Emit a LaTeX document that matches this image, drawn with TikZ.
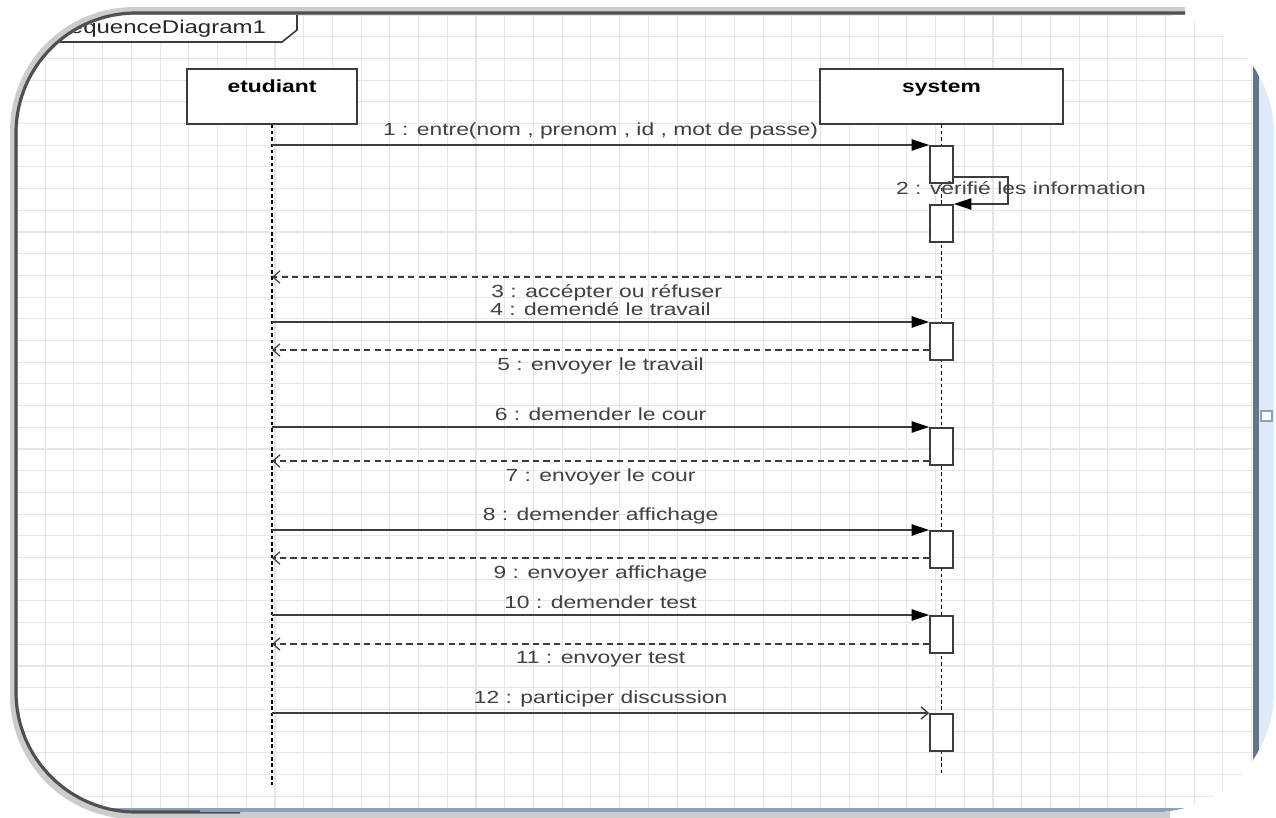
\documentclass[tikz,border=0pt]{standalone}
\usepackage{fontspec}
\setmainfont{Liberation Sans}
\newfontfamily\umlfont[FakeStretch=1.3]{Liberation Sans}
\usepackage{tikz}
\usetikzlibrary{arrows.meta, positioning}
\definecolor{gridgray}{RGB}{229,229,234}
\definecolor{linegray}{RGB}{60,60,60}
\definecolor{edgegray}{RGB}{80,80,80}
\definecolor{barslate}{RGB}{100,116,140}
\definecolor{barlight}{RGB}{222,236,250}
\definecolor{bottomblue}{RGB}{140,160,185}
\tikzset{
  actor/.style={
    draw=linegray, rectangle, fill=white, anchor=north,
    inner ysep=2.8pt, text height=10.5pt, text depth=15.1pt,
    font=\umlfont\fontsize{10}{12}\selectfont\bfseries,
    line width=1pt
  },
  act/.style={
    draw=linegray, rectangle, fill=white, anchor=north,
    minimum width=0.46cm, minimum height=0.74cm, inner sep=0pt,
    line width=1pt
  },
  lifeline/.style={line width=1pt, dash pattern=on 2pt off 1.6pt},
  call/.style={-{Triangle[length=10pt, width=6.5pt, fill=black, color=black]},
    draw=linegray, line width=0.8pt},
  async/.style={-{Straight Barb[length=4pt, width=7pt]}, draw=linegray, line width=0.8pt},
  reply/.style={-{Straight Barb[length=4pt, width=7pt]}, draw=linegray, line width=0.7pt,
    dash pattern=on 3.5pt off 2.5pt},
  msg/.style={font=\umlfont\fontsize{10}{12}\selectfont, text=black!75, inner sep=1.5pt},
  gridline/.style={draw=gridgray, line width=0.6pt},
  outline/.style={rounded corners=2.4cm}
}
\begin{document}
\begin{tikzpicture}[x=0.02cm, y=-0.02cm]
  \useasboundingbox (0,0) rectangle (1276,818);

  % Screenshot area
  \begin{scope}
    \clip[outline] (17,14) rectangle (1274,812);
    \fill[white] (0,0) rectangle (1276,818);
    \foreach \i in {0,...,44}
      \draw[gridline] ({16.5+28.72*\i},0) -- ({16.5+28.72*\i},818);
    \foreach \j in {0,...,37}
      \draw[gridline] (0,{15+21.7*\j}) -- (1276,{15+21.7*\j});
    \fill[barlight] (1259,0) rectangle (1276,818);
    \fill[barslate] (1253,0) rectangle (1259,818);
    \draw[bottomblue, fill=white, line width=0.6pt] (1261,411) rectangle (1272,421);
    \fill[bottomblue] (0,808) rectangle (1276,818);

    % Frame tab
    \draw[linegray, line width=0.9pt, fill=white]
      (20,14) -- (297,14) -- (297,30) -- (282,42) -- (20,42);
    \node[msg, anchor=west, text=black!85, font=\umlfont\fontsize{10.5}{12}\selectfont]
      (frametitle) at (67,29) {equenceDiagram1};
  \end{scope}

  % Edge shadow
  \draw[black!20, line width=4.5pt, outline]
    (1185,11) -- (14,11) -- (14,815) -- (1170,815);
  \draw[edgegray, line width=1.8pt, outline]
    (1185,13) -- (16,13) -- (16,812) -- (240,812);
  \draw[bottomblue, line width=1.6pt] (200,811) -- (1165,811);

  % Actors
  \node[actor, minimum width=3.4cm]  (etudiant) at (272,68) {etudiant};
  \node[actor, minimum width=4.86cm] (system)   at (941.5,68) {system};

  % Lifelines
  \draw[lifeline] (etudiant.south) -- ++(0,660);
  \draw[lifeline] (system.south) -- ++(0,648);

  % Activations
  \node[act] (a1)  at (system.south |- 0,145) {};
  \node[act] (a2)  at (system.south |- 0,204) {};
  \node[act] (a4)  at (system.south |- 0,322) {};
  \node[act] (a6)  at (system.south |- 0,427) {};
  \node[act] (a8)  at (system.south |- 0,530) {};
  \node[act] (a10) at (system.south |- 0,615) {};
  \node[act] (a12) at (system.south |- 0,713) {};

  % Messages
  \draw[call] (etudiant.south |- a1.north) -- (a1.north west)
    node[msg, midway, above=1.5pt] {1 : entre(nom , prenom , id , mot de passe)};
  \draw[call] (a1.east |- 0,177) -- ++(54,0) |- (a2.north east);
  \node[msg] (selfmsg) at (1021,188) {2 : vérifié les information};
  \draw[reply] (system.south |- 0,277) -- (etudiant.south |- 0,277)
    node[msg, midway, below=2.5pt] {3 : accépter ou réfuser};
  \draw[call] (etudiant.south |- a4.north) -- (a4.north west)
    node[msg, midway, above=1.5pt] {4 : demendé le travail};
  \draw[reply] (a4.west |- 0,350) -- (etudiant.south |- 0,350)
    node[msg, midway, below=2.5pt] {5 : envoyer le travail};
  \draw[call] (etudiant.south |- a6.north) -- (a6.north west)
    node[msg, midway, above=1.5pt] {6 : demender le cour};
  \draw[reply] (a6.west |- 0,461) -- (etudiant.south |- 0,461)
    node[msg, midway, below=2.5pt] {7 : envoyer le cour};
  \draw[call] (etudiant.south |- a8.north) -- (a8.north west)
    node[msg, midway, above=1.5pt] {8 : demender affichage};
  \draw[reply] (a8.west |- 0,558) -- (etudiant.south |- 0,558)
    node[msg, midway, below=2.5pt] {9 : envoyer affichage};
  \draw[call] (etudiant.south |- a10.north) -- (a10.north west)
    node[msg, midway, above=1.5pt] {10 : demender test};
  \draw[reply] (a10.west |- 0,644) -- (etudiant.south |- 0,644)
    node[msg, midway, below=2.5pt] {11 : envoyer test};
  \draw[async] (etudiant.south |- a12.north) -- (a12.north west)
    node[msg, midway, above=1.5pt] {12 : participer discussion};
\end{tikzpicture}
\end{document}
